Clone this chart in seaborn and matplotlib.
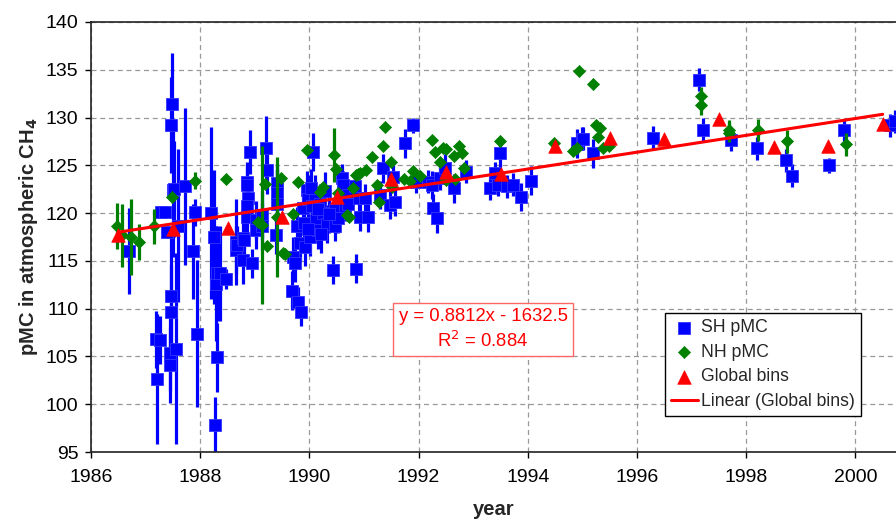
import numpy as np
import pandas as pd
import matplotlib
matplotlib.use("Agg")
import matplotlib.pyplot as plt
import matplotlib.ticker as mtick
import seaborn as sns

# ---------------------------------------------------------------------------- #
# data
sh_year = [
    1986.70, 1987.19, 1987.20, 1987.26, 1987.28, 1987.35, 1987.40, 1987.45,
    1987.45, 1987.47, 1987.47, 1987.47, 1987.49, 1987.50, 1987.52, 1987.56,
    1987.60, 1987.72, 1987.86, 1987.90, 1987.95, 1988.19, 1988.25, 1988.29,
    1988.30, 1988.36, 1988.48, 1988.31, 1988.27, 1988.66, 1988.66, 1988.67,
    1988.79, 1988.79, 1988.80, 1988.85, 1988.85, 1988.88, 1988.85, 1988.85,
    1988.92, 1988.94, 1989.03, 1989.03, 1989.13, 1989.13, 1989.20, 1989.22,
    1989.39, 1989.40, 1989.40, 1989.40, 1989.68, 1989.70, 1989.74, 1989.77,
    1989.80, 1989.83, 1989.84, 1989.92, 1989.95, 1989.88, 1989.90, 1989.97,
    1990.01, 1990.04, 1990.07, 1990.10, 1990.13, 1990.16, 1990.20, 1990.25,
    1990.32, 1990.44, 1990.47, 1990.47, 1990.53, 1990.59, 1990.62, 1990.65,
    1990.71, 1990.71, 1990.84, 1990.86, 1990.90, 1990.93, 1991.02, 1991.08,
    1991.29, 1991.35, 1991.48, 1991.54, 1991.57, 1991.75, 1991.90, 1991.96,
    1992.18, 1992.24, 1992.27, 1992.33, 1992.39, 1992.48, 1992.64, 1992.87,
    1993.31, 1993.40, 1993.46, 1993.49, 1993.61, 1993.73, 1993.87, 1994.05,
    1994.90, 1994.99, 1995.02, 1995.20, 1996.30, 1997.13, 1997.21, 1997.73,
    1998.19, 1998.73, 1998.83, 1999.51, 1999.80, 2000.63, 2000.72,
    1989.98, 1990.03, 1990.15, 1990.22, 1990.28, 1990.35,
]
sh_pmc = [
    116.0, 106.8, 102.6, 106.7, 120.1, 120.1, 118.0, 105.4,
    104.1, 109.6, 111.3, 129.2, 131.4, 122.4, 122.5, 105.8,
    118.7, 122.8, 116.0, 120.1, 107.4, 120.0, 117.5, 112.6,
    113.7, 113.7, 113.1, 104.9, 97.8, 117.0, 116.1, 116.65,
    117.35, 115.1, 117.2, 123.3, 122.9, 121.55, 120.7, 119.6,
    126.4, 114.75, 119.3, 118.25, 119.8, 118.6, 126.85, 124.5,
    117.7, 123.1, 122.1, 121.0, 111.9, 115.45, 114.75, 118.6,
    110.75, 116.85, 109.7, 116.5, 122.4, 120.5, 119.0, 121.5,
    117.5, 120.7, 126.4, 122.0, 119.3, 118.2, 121.0, 120.0,
    118.9, 114.05, 120.3, 118.6, 119.45, 123.65, 122.95, 120.7,
    121.9, 121.0, 122.8, 114.2, 121.6, 119.6, 121.55, 119.55,
    121.9, 124.7, 120.85, 123.8, 121.2, 127.3, 129.2, 123.3,
    123.3, 122.95, 120.5, 119.45, 123.65, 124.7, 122.6, 124.35,
    122.6, 124.2, 122.95, 126.25, 122.8, 122.95, 121.7, 123.4,
    127.3, 127.8, 127.8, 126.25, 127.9, 133.95, 128.75, 127.65,
    126.8, 125.55, 123.9, 125.0, 128.7, 129.2, 129.6,
    118.3, 122.6, 120.4, 117.8, 122.3, 119.9,
]
sh_err = [
    4.5, 3.0, 6.8, 2.5, 0.6, 0.6, 0.6, 4.0,
    4.0, 5.0, 7.0, 5.0, 5.4, 7.0, 5.0, 10.0,
    8.0, 8.2, 5.0, 1.4, 7.7, 9.0, 7.0, 6.0,
    5.0, 5.0, 1.0, 3.6, 3.0, 4.5, 2.5, 2.0,
    2.0, 2.5, 2.0, 2.0, 2.0, 2.0, 2.0, 2.0,
    2.3, 1.5, 2.0, 2.0, 2.5, 2.5, 3.3, 2.5,
    2.0, 2.0, 2.5, 2.0, 2.0, 2.0, 2.0, 2.0,
    1.5, 2.0, 1.5, 2.0, 2.0, 2.0, 2.0, 2.5,
    2.0, 2.5, 2.0, 2.0, 2.0, 2.0, 2.0, 2.0,
    2.0, 1.5, 1.5, 1.5, 1.5, 1.5, 1.5, 1.5,
    1.5, 1.5, 1.5, 1.5, 1.5, 1.5, 1.5, 1.5,
    1.5, 1.5, 1.5, 1.2, 1.5, 1.5, 0.8, 1.2,
    1.2, 1.5, 1.5, 1.5, 1.2, 1.5, 1.5, 1.2,
    1.2, 1.2, 1.2, 1.5, 1.2, 1.2, 1.5, 1.5,
    1.5, 1.2, 1.2, 1.5, 1.2, 1.2, 1.2, 1.2,
    1.2, 1.2, 1.2, 0.8, 1.2, 1.2, 1.2,
    2.0, 2.0, 2.0, 2.0, 2.0, 2.0,
]

nh_year = [
    1986.48, 1986.57, 1986.73, 1986.87, 1987.15, 1987.49, 1987.90, 1988.48,
    1989.06, 1989.13, 1989.19, 1989.22, 1989.40, 1989.48, 1989.51, 1989.56,
    1989.70, 1989.80, 1989.96, 1990.19, 1990.24, 1990.45, 1990.49, 1990.53,
    1990.68, 1990.73, 1990.79, 1990.85, 1990.89, 1990.93, 1991.04, 1991.14,
    1991.23, 1991.28, 1991.34, 1991.38, 1991.49, 1991.52, 1991.74, 1991.84,
    1991.89, 1992.02, 1992.24, 1992.30, 1992.39, 1992.45, 1992.50, 1992.51,
    1992.64, 1992.67, 1992.74, 1992.79, 1992.84, 1993.49, 1994.48, 1994.83,
    1994.90, 1994.94, 1995.19, 1995.25, 1995.29, 1995.33, 1995.38, 1995.49,
    1997.17, 1997.17, 1997.69, 1997.69, 1998.22, 1998.75, 1999.83,
]
nh_pmc = [
    118.65, 117.7, 117.5, 116.95, 118.6, 121.65, 123.4, 123.6,
    119.1, 118.75, 123.0, 116.55, 119.6, 123.65, 115.85, 115.7,
    119.9, 123.3, 126.6, 122.25, 122.7, 126.1, 124.6, 122.1,
    119.8, 119.6, 122.6, 124.0, 124.1, 124.2, 124.5, 125.9,
    122.95, 121.15, 127.05, 129.05, 125.3, 122.7, 123.55, 123.4,
    124.4, 123.9, 127.7, 126.35, 125.3, 126.8, 126.7, 123.45,
    126.0, 123.55, 127.05, 126.25, 124.75, 127.55, 127.3, 126.5,
    126.8, 134.9, 133.5, 129.2, 128.0, 128.9, 126.8, 127.0,
    132.25, 131.3, 128.75, 128.4, 128.7, 127.5, 127.2,
]
nh_err = [
    2.4, 3.3, 4.0, 1.9, 1.8, 0.3, 0.9, 0.3,
    0.3, 8.3, 0.3, 0.3, 6.3, 0.3, 0.3, 0.3,
    0.3, 0.3, 0.3, 0.3, 0.3, 2.8, 0.3, 0.3,
    0.3, 0.3, 0.3, 0.3, 0.3, 0.3, 0.3, 0.3,
    0.3, 0.3, 0.3, 0.3, 0.3, 0.3, 0.3, 0.3,
    0.3, 0.3, 0.3, 0.3, 0.3, 0.3, 0.3, 0.3,
    0.3, 0.3, 0.3, 0.3, 0.3, 0.3, 0.3, 0.3,
    0.3, 0.3, 0.3, 0.3, 0.3, 0.3, 0.3, 0.3,
    1.0, 1.0, 1.0, 1.0, 1.2, 1.2, 1.2,
]

bin_year = [1986.5, 1987.5, 1988.5, 1989.5, 1990.5, 1991.5, 1992.5, 1993.5,
            1994.5, 1995.5, 1996.5, 1997.5, 1998.5, 1999.5, 2000.5]
bin_pmc = [117.7, 118.3, 118.4, 119.6, 121.65, 123.6, 124.3, 124.1,
           127.0, 127.9, 127.8, 129.8, 126.9, 127.0, 129.3]

fit_slope = 0.8812
fit_icept = -1632.5
fit_r2 = 0.884

BLUE = "#0000FF"
GREEN = "#008000"
RED = "#FF0000"


def main():
    sns.set_style("white")
    plt.rcParams["font.family"] = ["Liberation Sans", "DejaVu Sans"]

    sh = pd.DataFrame({"year": sh_year, "pmc": sh_pmc, "err": sh_err})
    nh = pd.DataFrame({"year": nh_year, "pmc": nh_pmc, "err": nh_err})
    bins = pd.DataFrame({"year": bin_year, "pmc": bin_pmc})

    fig = plt.figure(figsize=(8.96, 5.21), dpi=100)
    ax = fig.add_axes([91 / 896, 1 - 452 / 521, 805 / 896, 430 / 521])

    # SH samples with error bars
    ax.errorbar(sh["year"], sh["pmc"], yerr=sh["err"], fmt="none",
                ecolor=BLUE, elinewidth=2.3, capsize=0, zorder=2)
    sns.scatterplot(data=sh, x="year", y="pmc", marker="s", s=68,
                    color=BLUE, edgecolor="#3333FF", linewidth=0.6,
                    label="SH pMC", ax=ax, zorder=3)

    # NH samples with error bars
    ax.errorbar(nh["year"], nh["pmc"], yerr=nh["err"], fmt="none",
                ecolor=GREEN, elinewidth=2.3, capsize=0, zorder=4)
    sns.scatterplot(data=nh, x="year", y="pmc", marker="D", s=38,
                    color=GREEN, edgecolor=GREEN, linewidth=0.5,
                    label="NH pMC", ax=ax, zorder=5)

    # global bins
    sns.scatterplot(data=bins, x="year", y="pmc", marker="^", s=95,
                    color=RED, edgecolor=RED, linewidth=0.5,
                    label="Global bins", ax=ax, zorder=6)

    # linear trend over the global bins
    xs = np.array([bins["year"].min(), bins["year"].max()])
    sns.lineplot(x=xs, y=fit_slope * xs + fit_icept, color=RED, linewidth=2.2,
                 label="Linear (Global bins)", ax=ax, zorder=7)

    ax.set_xlim(1986, 1986 + 805 / 54.6)
    ax.set_ylim(95, 140)
    ax.xaxis.set_major_locator(mtick.MultipleLocator(2))
    ax.yaxis.set_major_locator(mtick.MultipleLocator(5))
    ax.grid(True, color="#999999", linestyle=(0, (4, 3)), linewidth=0.9)
    ax.tick_params(direction="out", length=4, width=1.0, colors="black",
                   labelsize=14, left=True, bottom=True)
    ax.tick_params(axis="x", pad=8)
    ax.tick_params(axis="y", pad=5)
    for side in ("left", "bottom", "top"):
        ax.spines[side].set_color("#222222")
        ax.spines[side].set_linewidth(1.2)
    ax.spines["right"].set_visible(False)

    ax.set_xlabel("year", fontsize=14.5, fontweight="bold", labelpad=10)
    ax.set_ylabel("pMC in atmospheric CH$_\\mathbf{4}$", fontsize=14.5,
                  fontweight="bold", labelpad=4)

    ax.text(1993.18, 107.8,
            "y = 0.8812x - 1632.5\nR$^2$ = %.3f" % fit_r2,
            color=RED, fontsize=13.3, ha="center", va="center",
            linespacing=1.35,
            bbox=dict(boxstyle="square,pad=0.28", facecolor="white",
                      edgecolor="#FF6666", linewidth=1.0), zorder=8)

    leg = ax.legend(loc="upper left", bbox_to_anchor=(0.713, 0.3226),
                    borderaxespad=0, fontsize=12.7, frameon=True,
                    fancybox=False, framealpha=1, edgecolor="black",
                    handlelength=1.5, handletextpad=0.2, borderpad=0.35,
                    labelspacing=0.42)
    leg.get_frame().set_linewidth(1.0)
    leg.set_zorder(10)

    plt.savefig("out.png", dpi=100)


if __name__ == "__main__":
    main()
